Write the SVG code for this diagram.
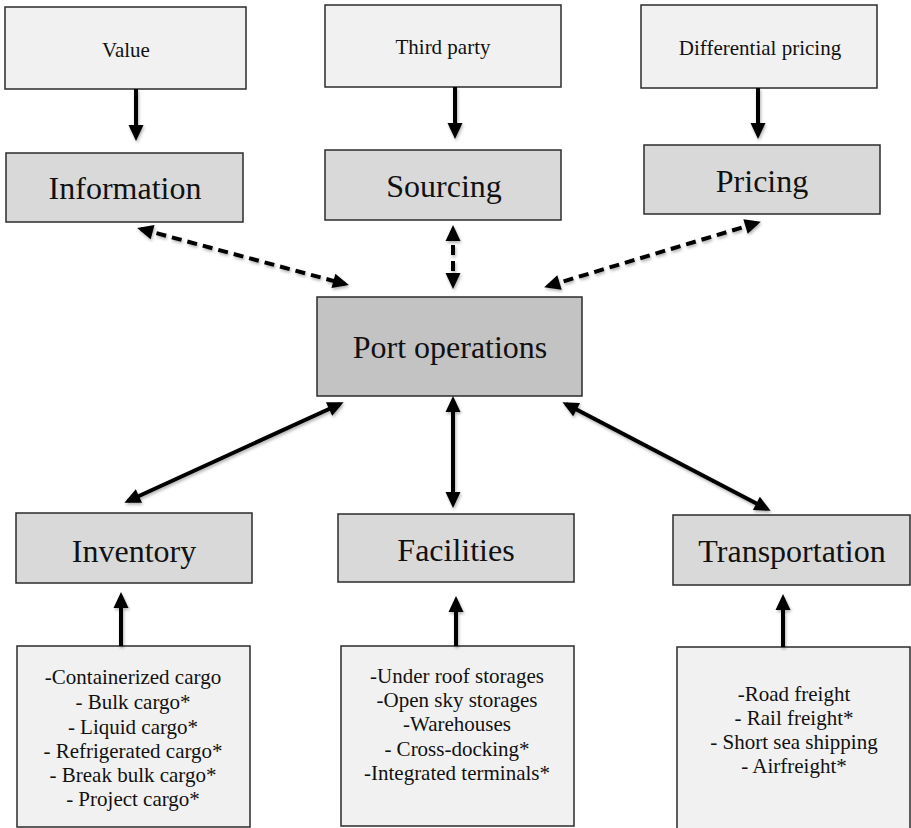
<svg xmlns="http://www.w3.org/2000/svg" width="911" height="828" viewBox="0 0 911 828">
  <style>
    .light { fill: #f1f1f1; stroke: #2b2b2b; stroke-width: 1.5; }
    .mid { fill: #d9d9d9; stroke: #2b2b2b; stroke-width: 1.5; }
    .core { fill: #c3c3c3; stroke: #2b2b2b; stroke-width: 1.5; }
    text { font-family: "Liberation Serif", "Times New Roman", serif; fill: #111; text-anchor: middle; }
    .small { font-size: 21px; }
    .big { font-size: 32px; }
    .list { font-size: 21px; }
    .link { stroke: #000; stroke-width: 4; fill: none; }
    .dash { stroke-dasharray: 10 6; }
  </style>
  <defs>
    <marker id="head" markerUnits="userSpaceOnUse" markerWidth="18" markerHeight="18" viewBox="0 0 18 18" refX="13" refY="9" orient="auto-start-reverse">
      <path d="M1,1.5 L17,9 L1,16.5 z" fill="#000"/>
    </marker>
    <filter id="soft" x="-20%" y="-20%" width="140%" height="140%">
      <feDropShadow dx="1" dy="2" stdDeviation="1.5" flood-color="#000" flood-opacity="0.3"/>
    </filter>
  </defs>

  <rect width="911" height="828" fill="#fff"/>

  <!-- top drivers -->
  <g id="value">
    <rect class="light" x="5" y="7" width="241" height="82"/>
    <text class="small" x="126" y="57">Value</text>
  </g>
  <g id="third-party">
    <rect class="light" x="325" y="5" width="236" height="82"/>
    <text class="small" x="443" y="54">Third party</text>
  </g>
  <g id="differential-pricing">
    <rect class="light" x="641" y="5" width="236" height="83"/>
    <text class="small" x="760" y="55">Differential pricing</text>
  </g>

  <!-- upper functions -->
  <g id="information">
    <rect class="mid" x="6" y="153" width="237" height="69"/>
    <text class="big" x="125" y="199">Information</text>
  </g>
  <g id="sourcing">
    <rect class="mid" x="325" y="150" width="236" height="70"/>
    <text class="big" x="444" y="197">Sourcing</text>
  </g>
  <g id="pricing">
    <rect class="mid" x="644" y="145" width="236" height="69"/>
    <text class="big" x="762" y="192">Pricing</text>
  </g>

  <!-- centre -->
  <g id="port-operations">
    <rect class="core" x="317" y="297" width="265" height="99"/>
    <text class="big" x="450" y="358">Port operations</text>
  </g>

  <!-- lower functions -->
  <g id="inventory">
    <rect class="mid" x="16" y="513" width="236" height="70"/>
    <text class="big" x="134" y="562">Inventory</text>
  </g>
  <g id="facilities">
    <rect class="mid" x="338" y="514" width="236" height="68"/>
    <text class="big" x="456" y="561">Facilities</text>
  </g>
  <g id="transportation">
    <rect class="mid" x="673" y="515" width="237" height="70"/>
    <text class="big" x="792" y="562">Transportation</text>
  </g>

  <!-- detail lists -->
  <g id="inventory-list">
    <rect class="light" x="17" y="646" width="233" height="181"/>
    <text class="list" x="133" y="684">-Containerized cargo</text>
    <text class="list" x="133" y="709">- Bulk cargo*</text>
    <text class="list" x="133" y="734">- Liquid cargo*</text>
    <text class="list" x="133" y="758">- Refrigerated cargo*</text>
    <text class="list" x="133" y="782">- Break bulk cargo*</text>
    <text class="list" x="133" y="806">- Project cargo*</text>
  </g>
  <g id="facilities-list">
    <rect class="light" x="341" y="646" width="233" height="180"/>
    <text class="list" x="457" y="683">-Under roof storages</text>
    <text class="list" x="457" y="707">-Open sky storages</text>
    <text class="list" x="457" y="731">-Warehouses</text>
    <text class="list" x="457" y="756">- Cross-docking*</text>
    <text class="list" x="457" y="780">-Integrated terminals*</text>
  </g>
  <g id="transportation-list">
    <rect class="light" x="677" y="647" width="233" height="190"/>
    <text class="list" x="794" y="701">-Road freight</text>
    <text class="list" x="794" y="725">- Rail freight*</text>
    <text class="list" x="794" y="749">- Short sea shipping</text>
    <text class="list" x="794" y="773">- Airfreight*</text>
  </g>

  <!-- connectors -->
  <g id="connectors" filter="url(#soft)">
    <line class="link" x1="136" y1="89" x2="136" y2="137" marker-end="url(#head)"/>
    <line class="link" x1="455" y1="87" x2="455" y2="135" marker-end="url(#head)"/>
    <line class="link" x1="758" y1="88" x2="758" y2="135" marker-end="url(#head)"/>

    <line class="link dash" x1="141" y1="229" x2="345" y2="284" marker-start="url(#head)" marker-end="url(#head)"/>
    <line class="link dash" x1="453" y1="229" x2="453" y2="285" marker-start="url(#head)" marker-end="url(#head)"/>
    <line class="link dash" x1="757" y1="223" x2="548" y2="286" marker-start="url(#head)" marker-end="url(#head)"/>

    <line class="link" x1="340" y1="404" x2="128" y2="501" marker-start="url(#head)" marker-end="url(#head)"/>
    <line class="link" x1="453" y1="400" x2="453" y2="504" marker-start="url(#head)" marker-end="url(#head)"/>
    <line class="link" x1="566" y1="404" x2="767" y2="509" marker-start="url(#head)" marker-end="url(#head)"/>

    <line class="link" x1="121" y1="646" x2="121" y2="596" marker-end="url(#head)"/>
    <line class="link" x1="456" y1="646" x2="456" y2="600" marker-end="url(#head)"/>
    <line class="link" x1="783" y1="647" x2="783" y2="598" marker-end="url(#head)"/>
  </g>
</svg>
